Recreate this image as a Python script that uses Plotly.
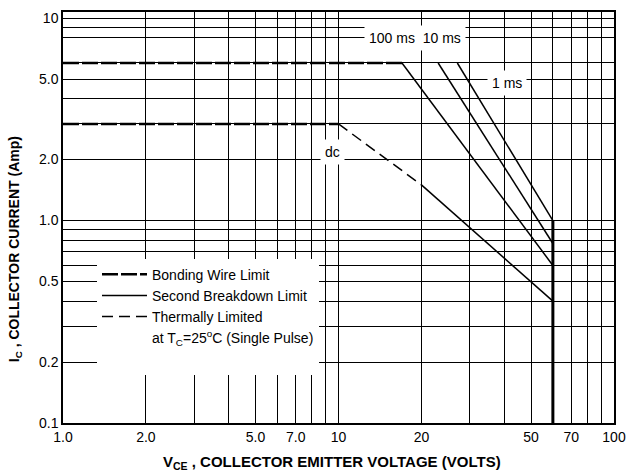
import numpy as np
import plotly.graph_objects as go

# ---- data (V_CE in volts, I_C in amps) ----
bw_pulse_v = [1.0, 17.0]          # bonding wire limit, pulsed (6 A)
bw_pulse_i = [6.0, 6.0]
bw_dc_v = [1.0, 10.0]             # bonding wire limit, dc (3 A)
bw_dc_i = [3.0, 3.0]
th_dc_v = [10.0, 20.0]            # thermally limited, dc
th_dc_i = [3.0, 1.5]
sb_dc_v = [20.0, 60.0]            # second breakdown, dc
sb_dc_i = [1.5, 0.4]
sb_100ms_v = [17.0, 60.0]
sb_100ms_i = [6.0, 0.6]
sb_10ms_v = [23.0, 60.0]
sb_10ms_i = [6.0, 0.77]
sb_1ms_v = [27.0, 60.0]
sb_1ms_i = [6.0, 1.0]
vceo_v = [60.0, 60.0]             # V_CEO limit
vceo_i = [1.0, 0.1]

x_tick_vals = [1, 2, 3, 4, 5, 6, 7, 8, 9, 10, 20, 30, 40, 50, 60, 70, 80, 90, 100]
x_tick_text = ["1.0", "2.0", "", "", "5.0", "", "7.0", "", "", "10", "20", "", "", "50", "", "70", "", "", "100"]
y_tick_vals = [0.1, 0.2, 0.3, 0.4, 0.5, 0.6, 0.7, 0.8, 0.9, 1, 2, 3, 4, 5, 6, 8, 9, 10]
y_tick_text = ["0.1", "0.2", "", "", "0.5", "", "", "", "", "1.0", "2.0", "", "", "5.0", "", "", "", "10"]

FONT = "Liberation Sans, Arial, sans-serif"
BLACK = "#000000"
BW_DASH = "16px,3px"
TH_DASH = "11px,6px"

fig = go.Figure()

# Bonding wire limit
fig.add_trace(go.Scatter(x=bw_pulse_v, y=bw_pulse_i, mode="lines", name="Bonding Wire Limit",
                         legendgroup="bw", line=dict(color=BLACK, width=2.5, dash=BW_DASH)))
fig.add_trace(go.Scatter(x=bw_dc_v, y=bw_dc_i, mode="lines", name="Bonding Wire Limit",
                         legendgroup="bw", showlegend=False,
                         line=dict(color=BLACK, width=2.5, dash=BW_DASH)))
# Second breakdown limit
fig.add_trace(go.Scatter(x=sb_dc_v, y=sb_dc_i, mode="lines", name="Second Breakdown Limit",
                         legendgroup="sb", line=dict(color=BLACK, width=1.5)))
for v, i in [(sb_100ms_v, sb_100ms_i), (sb_10ms_v, sb_10ms_i), (sb_1ms_v, sb_1ms_i)]:
    fig.add_trace(go.Scatter(x=v, y=i, mode="lines", legendgroup="sb", showlegend=False,
                             line=dict(color=BLACK, width=1.5)))
fig.add_trace(go.Scatter(x=vceo_v, y=vceo_i, mode="lines", showlegend=False,
                         line=dict(color=BLACK, width=3)))
# Thermally limited
fig.add_trace(go.Scatter(x=th_dc_v, y=th_dc_i, mode="lines", name="Thermally Limited",
                         legendgroup="th", line=dict(color=BLACK, width=1.5, dash=TH_DASH)))
# note row (plus a blank spacer row so the legend box is as tall as the reference's)
fig.add_trace(go.Scatter(x=[None], y=[None], mode="lines",
                         name="at T<sub>C</sub>=25<sup>o</sup>C (Single Pulse)",
                         line=dict(color="rgba(0,0,0,0)", width=0)))
fig.add_trace(go.Scatter(x=[None], y=[None], mode="lines", name=" ",
                         line=dict(color="rgba(0,0,0,0)", width=0)))

label_font = dict(family=FONT, size=14, color=BLACK)
ann = [
    dict(text="100 ms&nbsp;&nbsp;10 ms", x=np.log10(18.96), y=np.log10(7.97)),
    dict(text="1 ms", x=np.log10(40.9), y=np.log10(4.78)),
    dict(text="dc", x=np.log10(9.55), y=np.log10(2.18)),
]
for a in ann:
    fig.add_annotation(xref="x", yref="y", showarrow=False, font=label_font,
                       bgcolor="white", borderpad=4, **a)

fig.add_annotation(xref="paper", yref="paper", x=-0.087, y=0.423, textangle=-90,
                   xanchor="center", yanchor="middle", showarrow=False,
                   font=dict(family=FONT, size=14, color=BLACK),
                   text="<b>I<sub>C</sub> , COLLECTOR CURRENT (Amp)</b>")
fig.add_annotation(xref="paper", yref="paper", x=0.488, y=-0.095,
                   xanchor="center", yanchor="middle", showarrow=False,
                   font=dict(family=FONT, size=15, color=BLACK),
                   text="<b>V<sub>CE</sub> , COLLECTOR EMITTER VOLTAGE (VOLTS)</b>")

axis_common = dict(showgrid=True, gridcolor=BLACK, gridwidth=1, showline=True, linecolor=BLACK,
                   linewidth=1.5, mirror=True, ticks="", zeroline=False, automargin=False,
                   tickfont=dict(family=FONT, size=14, color=BLACK))
fig.update_xaxes(type="log", range=[0, 2], tickvals=x_tick_vals, ticktext=x_tick_text, **axis_common)
fig.update_yaxes(type="log", range=[-1, 1.03], tickvals=y_tick_vals, ticktext=y_tick_text, **axis_common)

fig.update_layout(
    width=628, height=472,
    margin=dict(l=63, r=14, t=12, b=49, autoexpand=False),
    plot_bgcolor="white", paper_bgcolor="white",
    font=dict(family=FONT, size=14, color=BLACK),
    legend=dict(x=0.0617, y=0.400, xanchor="left", yanchor="top", bgcolor="white",
                borderwidth=0, font=dict(family=FONT, size=14, color=BLACK),
                itemwidth=45, tracegroupgap=0),
)

fig.write_html("out.html", config={"displayModeBar": False},
               post_script="document.body.style.margin='0';")
